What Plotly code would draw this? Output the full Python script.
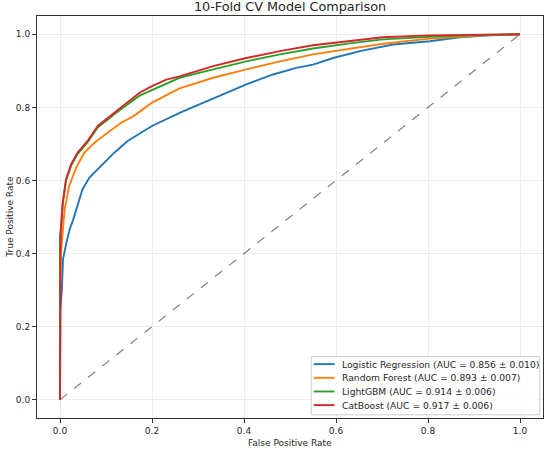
import plotly.graph_objects as go

#########################
###        DATA       ###
#########################

model_names = ["Logistic Regression", "Random Forest", "LightGBM", "CatBoost"]
auc_means = [0.856, 0.893, 0.914, 0.917]
auc_stds = [0.010, 0.007, 0.006, 0.006]

# mean ROC curves
fpr_lr = [0, 0, 0.001, 0.004, 0.0065, 0.014, 0.021, 0.028, 0.038, 0.049, 0.064, 0.089, 0.118, 0.147,
          0.2, 0.26, 0.311, 0.362, 0.405, 0.463, 0.514, 0.55, 0.594, 0.652, 0.724, 0.804, 0.869, 0.934, 1.0]
tpr_lr = [0, 0.2, 0.25, 0.3, 0.384, 0.43, 0.466, 0.49, 0.53, 0.576, 0.608, 0.639, 0.676, 0.708,
          0.749, 0.785, 0.813, 0.84, 0.863, 0.89, 0.908, 0.917, 0.935, 0.954, 0.972, 0.981, 0.992, 0.997, 1.0]

fpr_rf = [0, 0, 0.002, 0.006, 0.01, 0.02, 0.035, 0.053, 0.075, 0.104, 0.133, 0.16, 0.2, 0.26,
          0.333, 0.405, 0.478, 0.55, 0.63, 0.702, 0.804, 0.919, 1.0]
tpr_rf = [0, 0.3, 0.4, 0.46, 0.52, 0.585, 0.635, 0.676, 0.703, 0.731, 0.758, 0.776, 0.813, 0.852,
          0.881, 0.904, 0.926, 0.945, 0.96, 0.974, 0.988, 0.997, 1.0]

fpr_lgb = [0, 0, 0.002, 0.006, 0.013, 0.024, 0.038, 0.06, 0.082, 0.104, 0.125, 0.173, 0.231, 0.26,
           0.333, 0.405, 0.478, 0.55, 0.63, 0.702, 0.804, 0.9, 1.0]
tpr_lgb = [0, 0.45, 0.47, 0.539, 0.6, 0.64, 0.672, 0.705, 0.745, 0.767, 0.788, 0.832, 0.866, 0.881,
           0.904, 0.926, 0.945, 0.961, 0.975, 0.986, 0.993, 0.998, 1.0]

fpr_cb = [0, 0, 0.001, 0.002, 0.006, 0.013, 0.024, 0.038, 0.06, 0.082, 0.104, 0.125, 0.15, 0.173,
          0.2, 0.231, 0.26, 0.333, 0.405, 0.478, 0.55, 0.63, 0.702, 0.804, 0.9, 1.0]
tpr_cb = [0, 0.3, 0.4, 0.466, 0.539, 0.603, 0.644, 0.676, 0.708, 0.749, 0.771, 0.794, 0.818, 0.84,
          0.858, 0.876, 0.885, 0.913, 0.935, 0.954, 0.97, 0.982, 0.992, 0.997, 0.999, 1.0]

chance_x = [0, 1]
chance_y = [0, 1]

colors = ["#1f77b4", "#ff7f0e", "#2ca02c", "#d62728"]
curves = [(fpr_lr, tpr_lr), (fpr_rf, tpr_rf), (fpr_lgb, tpr_lgb), (fpr_cb, tpr_cb)]

#########################
###       FIGURE      ###
#########################

fig = go.Figure()

# diagonal first so the curves sit on top
fig.add_trace(go.Scatter(
    x = chance_x, y = chance_y,
    mode = "lines",
    line = dict(color = "rgba(0,0,0,0.5)", width = 1.2, dash = "dash"),
    showlegend = False, hoverinfo = "skip"
))

labels = []
for name, mean, std, color, (fx, fy) in zip(model_names, auc_means, auc_stds, colors, curves):
    label = f"{name} (AUC = {mean:.3f} ± {std:.3f})"
    labels.append(label)
    fig.add_trace(go.Scatter(
        x = fx, y = fy,
        mode = "lines",
        line = dict(color = color, width = 1.9),
        name = label, showlegend = False
    ))

axis_style = dict(
    range = [-0.05, 1.05],
    tickvals = [0, 0.2, 0.4, 0.6, 0.8, 1.0],
    ticktext = ["0.0", "0.2", "0.4", "0.6", "0.8", "1.0"],
    showgrid = True, gridcolor = "#ececec", gridwidth = 1,
    zeroline = False, automargin = False,
    showline = True, linecolor = "#333333", linewidth = 1, mirror = True,
    ticks = "outside", ticklen = 4, tickcolor = "#333333",
    tickfont = dict(size = 9, color = "#262626"),
)

# matplotlib-style legend box, drawn by hand (plotly's rows are too tall)
shapes = [dict(type = "rect", xref = "paper", yref = "paper",
               x0 = 0.542, x1 = 0.9935, y0 = 0.008, y1 = 0.153,
               line = dict(color = "#cccccc", width = 1), fillcolor = "rgba(255,255,255,0.85)", layer = "above")]
annotations = []
row_y = [0.134, 0.100, 0.066, 0.032]
for label, color, ry in zip(labels, colors, row_y):
    shapes.append(dict(type = "line", xref = "paper", yref = "paper",
                       x0 = 0.547, x1 = 0.588, y0 = ry, y1 = ry,
                       line = dict(color = color, width = 1.9), layer = "above"))
    annotations.append(dict(text = label, xref = "paper", yref = "paper", x = 0.598, y = ry,
                            xanchor = "left", yanchor = "middle", showarrow = False,
                            font = dict(size = 9.2, color = "#262626")))

# axis titles
annotations.append(dict(text = "False Positive Rate", xref = "paper", yref = "paper", x = 0.5, y = -0.061,
                        xanchor = "center", yanchor = "middle", showarrow = False, font = dict(size = 9)))
annotations.append(dict(text = "True Positive Rate", xref = "paper", yref = "paper", x = -0.054, y = 0.5,
                        xanchor = "center", yanchor = "middle", textangle = -90, showarrow = False,
                        font = dict(size = 9)))

fig.update_layout(
    width = 550, height = 451,
    paper_bgcolor = "white", plot_bgcolor = "white",
    font = dict(family = "DejaVu Sans", color = "#262626"),
    margin = dict(l = 37, r = 7, t = 16, b = 33),
    title = dict(text = "10-Fold CV Model Comparison", x = 0.5, xanchor = "center",
                 xref = "paper", yref = "container", y = 0.986, yanchor = "middle", font = dict(size = 12.8)),
    xaxis = axis_style,
    yaxis = axis_style,
    shapes = shapes,
    annotations = annotations,
    showlegend = False,
)

# drop the page's default body margin so the figure sits at the window's corner
fig.write_html("out.html", config = {"displayModeBar": False},
               post_script = "document.body.style.margin = '0';")
